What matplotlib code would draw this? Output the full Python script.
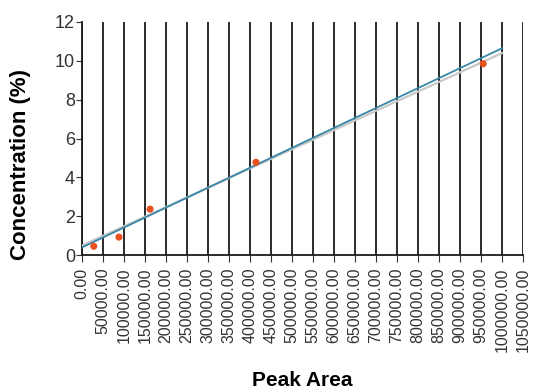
import matplotlib.pyplot as plt
from matplotlib.ticker import MultipleLocator, FormatStrFormatter

plt.rcParams['font.family'] = ['Liberation Sans', 'DejaVu Sans']

# measured points
peak_area = [28000, 88000, 162000, 414000, 955000]
concentration = [0.46, 0.93, 2.37, 4.78, 9.85]

# fitted lines (end points)
fit_x = [0, 1000000]
fit_y = [0.40, 10.65]
ref_x = [0, 1000000]
ref_y = [0.50, 10.40]

fig = plt.figure(figsize=(5.36, 3.92), dpi=100)
ax = fig.add_axes([0.153, 0.349, 0.823, 0.595])

ax.plot(ref_x, ref_y, color='#c8c8c8', lw=1.6, zorder=3)
ax.plot(fit_x, fit_y, color='#3a86a8', lw=1.3, zorder=4)
ax.scatter(peak_area, concentration, s=26, color='#e8511e', zorder=5, edgecolors='none')

ax.set_xlim(0, 1050000)
ax.set_ylim(0, 12)
ax.xaxis.set_major_locator(MultipleLocator(50000))
ax.xaxis.set_major_formatter(FormatStrFormatter('%.2f'))
ax.yaxis.set_major_locator(MultipleLocator(2))

ax.grid(True, axis='x', color='#1a1a1a', lw=1.3)
ax.set_axisbelow(True)
for s in ['top', 'right']:
	ax.spines[s].set_visible(False)
for s in ['left', 'bottom']:
	ax.spines[s].set_color('#1a1a1a')
	ax.spines[s].set_linewidth(1.3)

ax.tick_params(axis='x', labelrotation=90, labelsize=11.5, colors='#333333', length=5, pad=4)
ax.tick_params(axis='y', labelsize=13, colors='#333333', length=4, pad=1)

ax.set_xlabel('Peak Area', fontsize=15, fontweight='bold')
ax.set_ylabel('Concentration (%)', fontsize=16, fontweight='bold')
# fixed label positions (figure fraction)
ax.xaxis.set_label_coords(302 / 536, 1 - 371 / 392, transform=fig.transFigure)
ax.yaxis.set_label_coords(31 / 536, 1 - 164 / 392, transform=fig.transFigure)

fig.savefig('out.png', dpi=100)
